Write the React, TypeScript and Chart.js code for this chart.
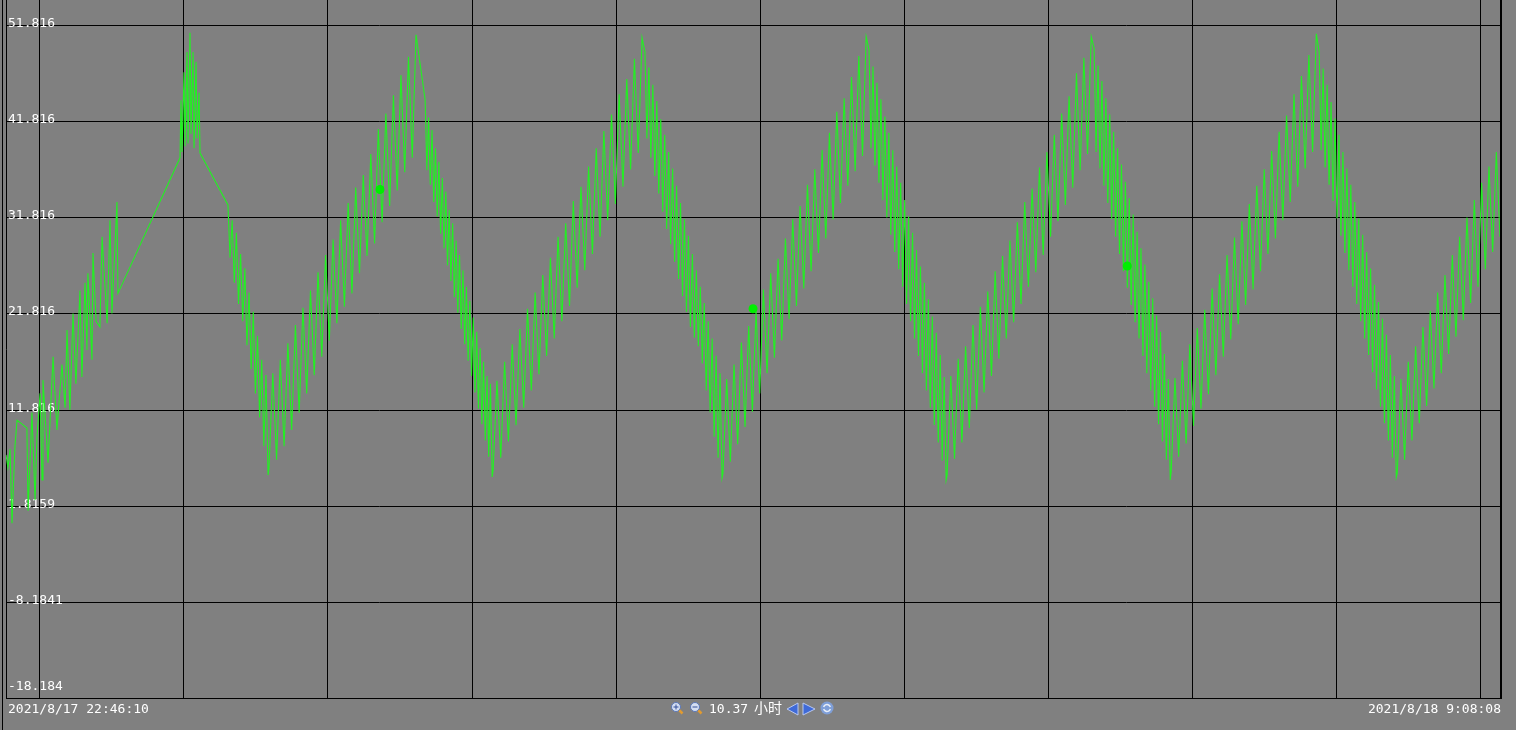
import React, { useEffect, useRef } from "react";
import { Chart, registerables } from "chart.js";

Chart.register(...registerables);

// ---- texts / axis info ----
const startLabel = "2021/8/17 22:46:10";
const endLabel = "2021/8/18 9:08:08";
const spanNumber = "10.37";
const spanUnit = "小时";
const totalMinutes = 621.97; // minutes from start to end
const yMin = -18.184;
const yMax = 54.416;
const yTickValues = [51.816, 41.816, 31.816, 21.816, 11.816, 1.8159, -8.1841, -18.184];
const yTickLabels = ["51.816", "41.816", "31.816", "21.816", "11.816", "1.8159", "-8.1841", "-18.184"];
// whole hours (23:00, 0:00, ... 9:00) as minutes after 22:46:10
const hourMarks = [13.83, 73.83, 133.83, 193.83, 253.83, 313.83, 373.83, 433.83, 493.83, 553.83, 613.83];

// ---- irregular opening section (minutes, value) ----
const openMinutes = [
  0, 0.8, 1.7, 2.5, 3.7, 4.6, 6.7, 8.7, 9.2, 10.8, 12.1, 12.9, 14.2, 15.0, 15.4, 17.5, 19.6, 21.2,
  23.3, 24.6, 25.4, 26.6, 27.9, 29.1, 30.8, 31.6, 32.9, 33.7, 34.1, 35.8, 36.2, 37.5, 39.1, 40.0,
  42.1, 43.3, 44.1, 46.2, 46.6,
  72.45, 72.87, 73.28, 74.12, 74.53, 75.36, 75.78, 76.61, 77.03, 77.86, 78.28, 79.11, 79.53, 80.36, 80.78,
];
const openValues = [
  7.1, 5.8, 7.7, 0.0, 7.9, 10.7, 10.3, 9.9, 1.3, 11.5, 2.4, 9.0, 13.5, 4.5, 14.9, 6.3, 17.3, 9.7,
  16.5, 12.0, 20.1, 11.8, 21.8, 14.5, 24.2, 15.2, 25.0, 18.0, 26.0, 17.0, 28.1, 21.0, 20.4, 29.8,
  20.8, 31.5, 21.8, 33.4, 23.9,
  38.0, 44.0, 38.6, 46.9, 39.2, 49.0, 39.5, 51.0, 40.5, 49.0, 39.0, 48.0, 40.0, 44.8, 38.5,
];

// ---- regular oscillating segments: [from, to] in minutes ----
const segmentRanges = [
  [92.4, 109.1],
  [109.5, 170.7],
  [174.5, 202.4],
  [202.8, 264.8],
  [266.0, 298.1],
  [298.5, 358.1],
  [359.3, 391.4],
  [391.8, 451.8],
  [453.0, 484.7],
  [485.1, 545.5],
  [546.7, 578.8],
  [579.2, 621.97],
];

const fall1 = [33.1, 27.6, 31.5, 25.0, 30.2, 22.8, 28.0, 21.0, 26.5, 18.5, 24.0, 16.0, 22.0, 13.5, 19.5, 11.0, 17.0, 8.0, 15.4, 5.0];
const rise2 = [
  5.8, 15.6, 6.6, 17.0, 8.0, 18.7, 9.7, 20.6, 11.5, 22.4, 13.5, 24.2, 15.4, 26.1, 17.3, 27.9, 19.0, 29.5, 20.8, 31.5,
  22.5, 33.3, 23.9, 34.9, 26.0, 36.2, 27.8, 38.4, 29.1, 41.0, 31.3, 42.6, 33.0, 44.5, 34.6, 46.6, 36.5, 48.5, 38.0, 50.8,
];
const fall2 = [
  44.0, 36.7, 42.2, 35.2, 40.9, 33.4, 39.0, 31.9, 37.6, 30.1, 35.9, 28.6, 34.5, 26.8, 32.6, 25.2, 31.2, 23.5, 29.4, 21.9,
  27.9, 20.2, 26.3, 18.6, 24.6, 16.9, 23.1, 15.3, 21.4, 13.6, 19.9, 11.9, 18.2, 10.3, 16.8, 8.6, 15.3, 6.9, 14.5, 4.8,
];
const rise3 = [
  5.5, 14.8, 6.8, 16.8, 8.5, 18.6, 10.2, 20.2, 12.0, 22.3, 13.8, 24.0, 15.5, 25.8, 17.4, 27.6, 19.2, 29.8, 21.0, 31.2,
  22.6, 33.5, 24.5, 35.0, 26.3, 37.1, 28.0, 39.0, 29.8, 40.8, 31.5, 42.5, 33.2, 44.6, 35.0, 46.2, 36.8, 48.3, 38.5, 50.5,
];
const fall3 = [
  49.0, 40.0, 47.4, 38.0, 45.6, 36.1, 43.9, 34.3, 42.0, 32.4, 40.4, 30.6, 38.6, 29.0, 36.9, 27.2, 35.1, 25.4, 33.3, 23.6,
  31.6, 22.0, 29.9, 20.4, 28.0, 19.3, 26.3, 18.4, 24.6, 16.6, 22.9, 13.8, 21.0, 11.5, 19.2, 9.0, 17.4, 6.8, 15.6, 4.7,
];
const rise4 = [
  5.2, 15.0, 6.4, 16.5, 8.2, 18.8, 10.0, 20.5, 11.6, 22.0, 13.5, 24.3, 15.6, 26.0, 17.2, 27.5, 19.0, 29.6, 21.2, 31.6,
  22.6, 33.0, 24.4, 35.2, 26.2, 36.8, 28.1, 38.8, 29.6, 40.6, 31.6, 42.8, 33.3, 44.2, 35.1, 46.4, 36.6, 48.6, 38.2, 50.6,
];
const fall4 = [
  49.2, 39.0, 47.5, 37.2, 45.8, 35.4, 44.1, 33.6, 42.3, 31.8, 40.6, 30.0, 38.8, 28.2, 37.1, 26.4, 35.4, 24.6, 33.6, 22.8,
  31.9, 21.0, 30.2, 19.2, 28.4, 17.4, 26.7, 15.6, 25.0, 13.8, 23.3, 12.0, 21.5, 10.2, 19.8, 8.4, 17.5, 6.5, 15.2, 4.5,
];
const rise5 = [
  5.0, 15.3, 6.7, 17.1, 8.4, 18.4, 9.9, 20.6, 11.8, 22.5, 13.6, 24.1, 15.3, 26.2, 17.1, 27.8, 19.2, 29.4, 20.9, 31.3,
  22.8, 33.4, 24.6, 34.8, 26.1, 37.0, 27.9, 38.6, 29.8, 40.4, 31.4, 42.6, 33.1, 44.4, 34.9, 46.8, 36.7, 48.4, 38.4, 50.6,
];
const fall5 = [
  49.4, 38.6, 47.6, 36.9, 46.0, 35.1, 44.2, 33.3, 42.5, 31.6, 40.7, 29.8, 39.0, 28.0, 37.3, 26.2, 35.5, 24.5, 33.8, 22.7,
  32.1, 20.9, 30.3, 19.2, 28.6, 17.4, 26.9, 15.6, 25.1, 13.8, 23.4, 12.1, 21.6, 10.3, 19.9, 8.5, 17.6, 6.6, 15.0, 4.5,
];
const rise6 = [
  5.4, 15.1, 6.9, 16.9, 8.3, 18.6, 10.1, 20.3, 11.9, 22.2, 13.4, 24.4, 15.4, 25.9, 17.3, 27.9, 19.1, 29.7, 20.7, 31.4,
  22.7, 33.2, 24.3, 35.1, 26.2, 36.8, 28.0, 38.7, 29.6, 40.7, 31.5, 42.4, 33.4, 44.6, 35.0, 46.5, 36.9, 48.7, 38.6, 50.9,
];
const fall6 = [
  49.0, 38.8, 47.3, 37.0, 45.6, 35.2, 43.8, 33.5, 42.1, 31.7, 40.4, 29.9, 38.6, 28.1, 36.9, 26.3, 35.2, 24.6, 33.4, 22.8,
  31.7, 21.0, 30.0, 19.2, 28.2, 17.5, 26.5, 15.7, 24.8, 13.9, 23.0, 12.1, 21.3, 10.4, 19.6, 8.6, 17.5, 6.8, 15.3, 4.8,
];
const rise7 = [
  5.2, 15.0, 6.6, 16.8, 8.6, 18.4, 10.4, 20.4, 12.2, 22.1, 14.0, 24.0, 15.6, 25.8, 17.6, 27.9, 19.4, 29.8, 21.1, 31.8,
  22.9, 33.6, 24.6, 35.4, 26.4, 37.1, 28.2, 38.6, 29.8,
];
const segmentValues = [fall1, rise2, fall2, rise3, fall3, rise4, fall4, rise5, fall5, rise6, fall6, rise7];

// ---- highlighted points ----
const markerMinutes = [155.7, 311.0, 466.8];
const markerValues = [34.7, 22.3, 26.75];

function buildPoints() {
  const pts: { x: number; y: number }[] = openMinutes.map((m, i) => ({ x: m, y: openValues[i] }));
  segmentValues.forEach((vals, s) => {
    const [a, b] = segmentRanges[s];
    vals.forEach((v, i) => pts.push({ x: a + ((b - a) * i) / (vals.length - 1), y: v }));
  });
  return pts;
}

const MONO = '13px "DejaVu Sans Mono", monospace';

const framePlugin = {
  id: "frame",
  beforeDraw(chart: any) {
    const { ctx, width, height } = chart;
    ctx.save();
    ctx.fillStyle = "#808080";
    ctx.fillRect(0, 0, width, height);
    ctx.restore();
  },
  beforeDatasetsDraw(chart: any) {
    const { ctx, chartArea, scales } = chart;
    const { left, right, top, bottom } = chartArea;
    const xs = scales.x;
    const ys = scales.y;
    ctx.save();
    ctx.strokeStyle = "#000";
    ctx.lineWidth = 1;
    ctx.beginPath();
    hourMarks.forEach((m) => {
      const px = Math.round(xs.getPixelForValue(m)) + 0.5;
      ctx.moveTo(px, top);
      ctx.lineTo(px, bottom);
    });
    yTickValues.forEach((v) => {
      const py = Math.round(ys.getPixelForValue(v)) + 0.5;
      ctx.moveTo(left, py);
      ctx.lineTo(right, py);
    });
    // frame
    ctx.moveTo(2.5, 0);
    ctx.lineTo(2.5, chart.height);
    ctx.moveTo(Math.round(left) + 0.5, 0);
    ctx.lineTo(Math.round(left) + 0.5, Math.round(bottom) + 1);
    ctx.moveTo(left, Math.round(bottom) + 0.5);
    ctx.lineTo(right + 2, Math.round(bottom) + 0.5);
    ctx.stroke();
    ctx.fillStyle = "#000";
    ctx.fillRect(Math.round(right), 0, 2, Math.round(bottom) + 1);

    // y labels (drawn beneath the line)
    ctx.fillStyle = "#ffffff";
    ctx.font = MONO;
    ctx.textAlign = "left";
    ctx.textBaseline = "alphabetic";
    yTickValues.forEach((v, i) => {
      const py = Math.round(ys.getPixelForValue(v));
      const base = Math.min(py + 2, bottom - 8);
      ctx.fillText(yTickLabels[i], 8, base);
    });
    ctx.restore();
  },
  afterDraw(chart: any) {
    const { ctx } = chart;
    ctx.save();
    ctx.fillStyle = "#ffffff";
    ctx.font = MONO;
    ctx.textBaseline = "alphabetic";
    ctx.textAlign = "left";
    ctx.fillText(startLabel, 8, 713);
    ctx.textAlign = "right";
    ctx.fillText(endLabel, 1501, 713);

    // zoom icons
    const magnifier = (cx: number, cy: number, plus: boolean) => {
      ctx.strokeStyle = "#e09a30";
      ctx.lineWidth = 2.5;
      ctx.beginPath();
      ctx.moveTo(cx + 3, cy + 3);
      ctx.lineTo(cx + 6.5, cy + 6.5);
      ctx.stroke();
      ctx.beginPath();
      ctx.arc(cx, cy, 4.5, 0, Math.PI * 2);
      ctx.fillStyle = "#d4def2";
      ctx.fill();
      ctx.lineWidth = 1;
      ctx.strokeStyle = "#5a78b8";
      ctx.stroke();
      ctx.strokeStyle = "#34509a";
      ctx.beginPath();
      ctx.moveTo(cx - 2.5, cy);
      ctx.lineTo(cx + 2.5, cy);
      if (plus) {
        ctx.moveTo(cx, cy - 2.5);
        ctx.lineTo(cx, cy + 2.5);
      }
      ctx.stroke();
    };
    magnifier(676, 707, true);
    magnifier(695, 707, false);

    ctx.fillStyle = "#ffffff";
    ctx.textAlign = "left";
    ctx.font = MONO;
    ctx.fillText(spanNumber, 709, 713);
    ctx.font = '14px "Noto Sans CJK SC", sans-serif';
    ctx.fillText(spanUnit, 754, 713);

    // arrows
    const tri = (pts: number[][]) => {
      ctx.beginPath();
      ctx.moveTo(pts[0][0], pts[0][1]);
      ctx.lineTo(pts[1][0], pts[1][1]);
      ctx.lineTo(pts[2][0], pts[2][1]);
      ctx.closePath();
      ctx.fillStyle = "#3f6ad8";
      ctx.fill();
      ctx.strokeStyle = "#b8c8f0";
      ctx.lineWidth = 1;
      ctx.stroke();
    };
    tri([[787, 709], [798, 703], [798, 715]]);
    tri([[815, 709], [803, 703], [803, 715]]);

    // refresh icon
    ctx.beginPath();
    ctx.arc(827, 708, 6.5, 0, Math.PI * 2);
    ctx.fillStyle = "#7f9fd8";
    ctx.fill();
    ctx.strokeStyle = "#e8eef8";
    ctx.lineWidth = 1.5;
    ctx.beginPath();
    ctx.arc(827, 708, 3.5, Math.PI * 1.1, Math.PI * 1.9);
    ctx.stroke();
    ctx.beginPath();
    ctx.arc(827, 708, 3.5, Math.PI * 0.1, Math.PI * 0.9);
    ctx.stroke();
    ctx.restore();
  },
};

export default function App() {
  const ref = useRef<HTMLCanvasElement | null>(null);
  useEffect(() => {
    if (!ref.current) return;
    const points = buildPoints();
    const markers = markerMinutes.map((m, i) => ({ x: m, y: markerValues[i] }));
    const chart = new Chart(ref.current, {
      type: "line",
      data: {
        datasets: [
          {
            data: markers,
            showLine: false,
            pointRadius: 4.5,
            pointBackgroundColor: "#00ee00",
            pointBorderWidth: 0,
            order: 0,
          },
          {
            data: points,
            borderColor: "#22f022",
            borderWidth: 1.1,
            pointRadius: 0,
            tension: 0,
            fill: false,
            order: 1,
          },
        ],
      },
      options: {
        animation: false,
        responsive: false,
        maintainAspectRatio: false,
        events: [],
        layout: { autoPadding: false, padding: { left: 6, right: 16, top: 0, bottom: 32 } },
        scales: {
          x: { type: "linear", min: 0, max: totalMinutes, display: false },
          y: { type: "linear", min: yMin, max: yMax, display: false },
        },
        plugins: { legend: { display: false }, tooltip: { enabled: false } },
      },
      plugins: [framePlugin],
    });
    return () => chart.destroy();
  }, []);
  return (
    <div style={{ position: "fixed", left: 0, top: 0, width: 1516, height: 730, background: "#808080" }}>
      <canvas ref={ref} width={1516} height={730} style={{ display: "block" }} />
    </div>
  );
}
